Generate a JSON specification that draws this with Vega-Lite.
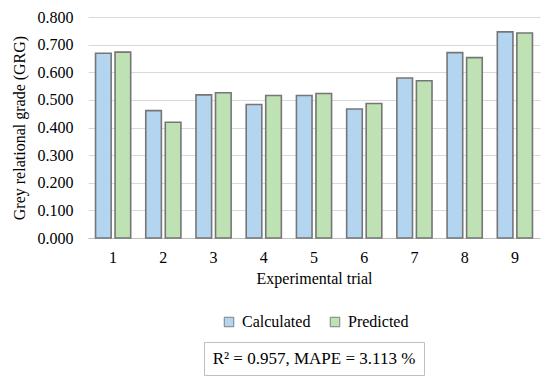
{
  "$schema": "https://vega.github.io/schema/vega-lite/v6.json",
  "padding": {"top": 9, "left": 11, "right": 5, "bottom": 8},
  "background": "white",
  "config": {
    "font": "Liberation Serif",
    "view": {"stroke": null},
    "axis": {"labelFont": "Liberation Serif", "titleFont": "Liberation Serif"},
    "legend": {"labelFont": "Liberation Serif"},
    "text": {"font": "Liberation Serif"}
  },
  "vconcat": [
    {
      "width": 452,
      "height": 221,
      "data": {"values": [
        {"trial": "1", "series": "Calculated", "grg": 0.669},
        {"trial": "1", "series": "Predicted", "grg": 0.673},
        {"trial": "2", "series": "Calculated", "grg": 0.461},
        {"trial": "2", "series": "Predicted", "grg": 0.419},
        {"trial": "3", "series": "Calculated", "grg": 0.518},
        {"trial": "3", "series": "Predicted", "grg": 0.526},
        {"trial": "4", "series": "Calculated", "grg": 0.483},
        {"trial": "4", "series": "Predicted", "grg": 0.516},
        {"trial": "5", "series": "Calculated", "grg": 0.516},
        {"trial": "5", "series": "Predicted", "grg": 0.523},
        {"trial": "6", "series": "Calculated", "grg": 0.467},
        {"trial": "6", "series": "Predicted", "grg": 0.487},
        {"trial": "7", "series": "Calculated", "grg": 0.579},
        {"trial": "7", "series": "Predicted", "grg": 0.569},
        {"trial": "8", "series": "Calculated", "grg": 0.671},
        {"trial": "8", "series": "Predicted", "grg": 0.653},
        {"trial": "9", "series": "Calculated", "grg": 0.746},
        {"trial": "9", "series": "Predicted", "grg": 0.742}
      ]},
      "mark": {"type": "bar", "stroke": "#767676", "strokeWidth": 1.6},
      "encoding": {
        "x": {"field": "trial", "type": "nominal", "title": "Experimental trial",
              "scale": {"paddingInner": 0.3, "paddingOuter": 0.15},
              "axis": {"labelAngle": 0, "ticks": false, "domainColor": "#bfbfbf", "domainWidth": 1, "labelPadding": 11, "titlePadding": 5, "grid": false,
                       "labelFontSize": 16, "titleFontSize": 16, "titleFontWeight": "normal", "labelColor": "#000", "titleColor": "#000"}},
        "xOffset": {"field": "series", "type": "nominal", "scale": {"paddingInner": 0.2}},
        "y": {"field": "grg", "type": "quantitative", "title": "Grey relational grade (GRG)",
              "scale": {"domain": [0, 0.8], "nice": false},
              "axis": {"values": [0, 0.1, 0.2, 0.3, 0.4, 0.5, 0.6, 0.7, 0.8], "format": ".3f", "domain": false, "ticks": false, "labelPadding": 15, "gridColor": "#d9d9d9", "gridWidth": 1, "titlePadding": 10,
                       "labelFontSize": 16, "titleFontSize": 16, "titleFontWeight": "normal", "labelColor": "#000", "titleColor": "#000"}},
        "fill": {"field": "series", "type": "nominal",
                 "scale": {"domain": ["Calculated", "Predicted"], "range": ["#b4d5f0", "#bfe2b4"]},
                 "legend": {"title": null, "orient": "none", "direction": "horizontal", "legendX": 133, "legendY": 297, "symbolType": "square", "symbolSize": 90, "symbolStrokeColor": "#7f7f7f", "symbolStrokeWidth": 1, "labelOffset": 5, "columnPadding": 16,
                            "labelFontSize": 16, "labelColor": "#000"}}
      }
    },
    {
      "width": 220,
      "height": 33,
      "view": {"stroke": "#bfbfbf", "strokeWidth": 1},
      "data": {"values": [{"label": "R² = 0.957, MAPE = 3.113 %"}]},
      "mark": {"type": "text", "fontSize": 17, "color": "#000", "baseline": "middle", "align": "center"},
      "encoding": {"text": {"field": "label", "type": "nominal"}}
    }
  ],
  "bounds": "flush",
  "center": true,
  "spacing": 104
}
